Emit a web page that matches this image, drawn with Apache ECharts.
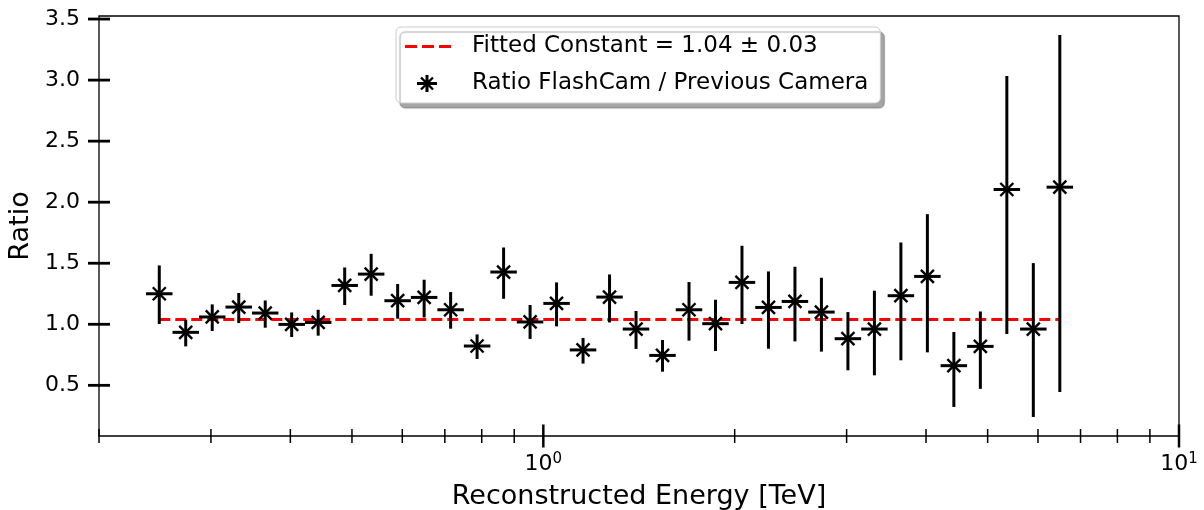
<!DOCTYPE html>
<html>
<head>
<meta charset="utf-8">
<script src="https://cdn.jsdelivr.net/npm/echarts@6/dist/echarts.min.js"></script>
<style>
  html, body { margin: 0; padding: 0; background: #ffffff; }
  #chart { width: 1204px; height: 510px; }
</style>
</head>
<body>
<div id="chart"></div>
<script>
// Energy bin edges in TeV (24 logarithmic bins per decade)
const binEdges = [0.23714, 0.26102, 0.28730, 0.31623, 0.34807, 0.38312, 0.42170, 0.46416,
  0.51090, 0.56234, 0.61897, 0.68129, 0.74989, 0.82540, 0.90852, 1.00000, 1.10069, 1.21153,
  1.33352, 1.46780, 1.61560, 1.77828, 1.95734, 2.15443, 2.37137, 2.61016, 2.87298, 3.16228,
  3.48070, 3.83119, 4.21697, 4.64159, 5.10897, 5.62341, 6.18966, 6.81292];

// Bin centres in TeV
const energy = [0.2488, 0.2738, 0.3014, 0.3318, 0.3652, 0.4019, 0.4424, 0.4870, 0.5360,
  0.5900, 0.6494, 0.7148, 0.7867, 0.8660, 0.9532, 1.0491, 1.1548, 1.2711, 1.3991, 1.5399,
  1.6950, 1.8657, 2.0535, 2.2603, 2.4879, 2.7384, 3.0142, 3.3177, 3.6517, 4.0195, 4.4242,
  4.8697, 5.3600, 5.8997, 6.4938];

// Ratio FlashCam / previous camera, with lower and upper error bounds
const ratio = [1.250, 0.934, 1.060, 1.141, 1.092, 0.999, 1.015, 1.318, 1.411, 1.193, 1.220,
  1.119, 0.822, 1.428, 1.019, 1.171, 0.790, 1.223, 0.961, 0.745, 1.119, 1.005, 1.343, 1.138,
  1.187, 1.100, 0.882, 0.961, 1.234, 1.392, 0.661, 0.819, 2.104, 0.961, 2.123];
const ratioLow = [1.002, 0.819, 0.945, 1.010, 0.972, 0.896, 0.907, 1.158, 1.234, 1.046, 1.056,
  0.964, 0.716, 1.209, 0.880, 0.983, 0.678, 1.015, 0.798, 0.612, 0.866, 0.781, 1.002, 0.800,
  0.860, 0.776, 0.623, 0.582, 0.705, 0.770, 0.323, 0.471, 0.920, 0.241, 0.446];
const ratioHigh = [1.482, 1.037, 1.163, 1.256, 1.195, 1.097, 1.119, 1.465, 1.577, 1.330, 1.365,
  1.264, 0.917, 1.629, 1.158, 1.343, 0.888, 1.408, 1.109, 0.871, 1.346, 1.201, 1.643, 1.433,
  1.471, 1.381, 1.100, 1.275, 1.670, 1.902, 0.937, 1.105, 3.034, 1.501, 3.369];

// Constant fit to the ratio
const fitValue = 1.04;
const fitError = 0.03;

// Axis ranges and tick positions
const xRange = [0.2, 10];
const yRange = [0.085, 3.525];
const xMajorTicks = [1, 10];
const xMinorTicks = [0.2, 0.3, 0.4, 0.5, 0.6, 0.7, 0.8, 0.9, 2, 3, 4, 5, 6, 7, 8, 9];
const yTicks = [0.5, 1.0, 1.5, 2.0, 2.5, 3.0, 3.5];

const FONT = 'DejaVu Sans';
const fitName = 'Fitted Constant = ' + fitValue.toFixed(2) + ' \u00b1 ' + fitError.toFixed(2);
const ratioName = 'Ratio FlashCam / Previous Camera';

// Legend icons (62 x 22 boxes; the zero-length subpaths pin the box size)
const boxPins = 'M0,0L0,0Z M62,22L62,22Z ';
const dashIcon = 'path://' + boxPins +
  'M0,9.5H12V12.5H0Z M17,9.5H29V12.5H17Z M34,9.5H46V12.5H34Z';
const starIcon = 'path://' + boxPins +
  'M12,9.5H32V12.5H12Z M20.5,2.5H23.5V19.5H20.5Z ' +
  'M16.85,4.15L28.85,16.15L27.15,17.85L15.15,5.85Z ' +
  'M27.15,4.15L28.85,5.85L16.85,17.85L15.15,16.15Z';

const points = energy.map((e, i) => [e, ratio[i], ratioLow[i], ratioHigh[i], binEdges[i], binEdges[i + 1]]);

function renderPoint(params, api) {
  const c = api.coord([api.value(0), api.value(1)]);
  const lo = api.coord([api.value(0), api.value(2)]);
  const hi = api.coord([api.value(0), api.value(3)]);
  const l = api.coord([api.value(4), api.value(1)]);
  const r = api.coord([api.value(5), api.value(1)]);
  const m = 6.5;
  const bar = { stroke: '#000', lineWidth: 3 };
  const cross = { stroke: '#000', lineWidth: 2.4 };
  return {
    type: 'group',
    children: [
      { type: 'line', shape: { x1: c[0], y1: hi[1], x2: c[0], y2: lo[1] }, style: bar },
      { type: 'line', shape: { x1: l[0], y1: c[1], x2: r[0], y2: c[1] }, style: bar },
      { type: 'line', shape: { x1: c[0] - m, y1: c[1] - m, x2: c[0] + m, y2: c[1] + m }, style: cross },
      { type: 'line', shape: { x1: c[0] - m, y1: c[1] + m, x2: c[0] + m, y2: c[1] - m }, style: cross }
    ]
  };
}

// Tick marks crossing the axis line (drawn half inside, half outside)
function tickSeries(data, vertical, half, width) {
  return {
    type: 'custom',
    silent: true,
    clip: false,
    z: 6,
    data: data,
    renderItem: function (params, api) {
      const p = api.coord([api.value(0), api.value(1)]);
      const shape = vertical
        ? { x1: p[0], y1: p[1] - half, x2: p[0], y2: p[1] + half }
        : { x1: p[0] - half, y1: p[1], x2: p[0] + half, y2: p[1] };
      return { type: 'line', shape: shape, style: { stroke: '#000', lineWidth: width } };
    }
  };
}

const chart = echarts.init(document.getElementById('chart'), null, { renderer: 'canvas' });

chart.setOption({
  animation: false,
  backgroundColor: '#ffffff',
  textStyle: { fontFamily: FONT },
  grid: {
    left: 99, right: 25, top: 16, bottom: 74,
    outerBoundsMode: 'none',
    containLabel: false,
    show: true, borderColor: '#000', borderWidth: 1.3, backgroundColor: 'transparent'
  },
  legend: {
    orient: 'vertical',
    left: 396, top: 27,
    itemWidth: 62, itemHeight: 22, itemGap: 14,
    padding: [8, 12, 8, 9],
    backgroundColor: '#ffffff',
    borderColor: '#cccccc', borderWidth: 1, borderRadius: 5,
    shadowColor: 'rgba(0,0,0,0.35)', shadowBlur: 1, shadowOffsetX: 4, shadowOffsetY: 5,
    selectedMode: false,
    textStyle: { fontFamily: FONT, fontSize: 23, color: '#000', lineHeight: 22 },
    data: [
      { name: fitName, icon: dashIcon, itemStyle: { color: '#ff0000', borderWidth: 0 } },
      { name: ratioName, icon: starIcon, itemStyle: { color: '#000000', borderWidth: 0 } }
    ]
  },
  xAxis: {
    type: 'log', logBase: 10,
    min: xRange[0], max: xRange[1],
    name: 'Reconstructed Energy [TeV]',
    nameLocation: 'middle', nameGap: 47,
    nameTextStyle: { fontFamily: FONT, fontSize: 27, color: '#000' },
    axisLine: { show: false },
    axisTick: { show: false },
    splitLine: { show: false },
    minorTick: { show: false },
    axisLabel: {
      margin: 16,
      showMinLabel: true, showMaxLabel: true,
      formatter: function (v) {
        const p = Math.log10(v);
        if (Math.abs(p - Math.round(p)) > 1e-6) return '';
        return '{b|10}{s|' + Math.round(p) + '}';
      },
      rich: {
        b: { fontFamily: FONT, fontSize: 22, color: '#000', lineHeight: 24 },
        s: { fontFamily: FONT, fontSize: 15, color: '#000', lineHeight: 15, verticalAlign: 'top' }
      }
    }
  },
  yAxis: {
    type: 'value',
    min: yRange[0], max: yRange[1],
    name: 'Ratio',
    nameLocation: 'middle', nameGap: 63,
    nameTextStyle: { fontFamily: FONT, fontSize: 27, color: '#000' },
    axisLine: { show: false },
    axisTick: { show: false },
    splitLine: { show: false },
    axisLabel: {
      margin: 19,
      fontFamily: FONT, fontSize: 22, color: '#000',
      formatter: function (v) {
        return Math.abs(v * 2 - Math.round(v * 2)) < 1e-6 ? v.toFixed(1) : '';
      }
    }
  },
  series: [
    {
      name: fitName,
      type: 'line',
      data: [[energy[0], fitValue], [energy[energy.length - 1], fitValue]],
      symbol: 'none',
      z: 2,
      itemStyle: { color: '#ff0000' },
      lineStyle: { color: '#ff0000', width: 3, type: [11, 5] }
    },
    {
      name: ratioName,
      type: 'custom',
      data: points,
      z: 3,
      clip: false,
      itemStyle: { color: '#000' },
      renderItem: renderPoint
    },
    tickSeries(xMinorTicks.map(v => [v, yRange[0]]), true, 7, 1.5),
    tickSeries(xMajorTicks.map(v => [v, yRange[0]]), true, 11.5, 2.5),
    tickSeries(yTicks.map(v => [xRange[0], v]), false, 11, 2.8)
  ]
});
</script>
</body>
</html>
